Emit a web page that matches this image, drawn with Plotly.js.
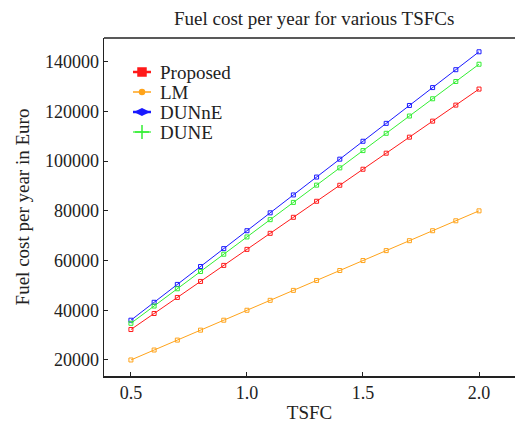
<!DOCTYPE html>
<html>
<head>
<meta charset="utf-8">
<script src="https://cdn.plot.ly/plotly-3.0.1.min.js"></script>
<style>
  html, body { margin: 0; padding: 0; background: #fff; }
  #chart { width: 515px; height: 426px; }
</style>
</head>
<body>
<div id="chart"></div>
<script>
// Thrust-specific fuel consumption values
const tsfc = [0.5, 0.6, 0.7, 0.8, 0.9, 1.0, 1.1, 1.2, 1.3, 1.4, 1.5, 1.6, 1.7, 1.8, 1.9, 2.0];

// Yearly fuel cost in Euro for each engine model
const proposed = [32250, 38700, 45150, 51600, 58050, 64500, 70950, 77400, 83850, 90300, 96750, 103200, 109650, 116100, 122550, 129000];
const lm       = [20000, 24000, 28000, 32000, 36000, 40000, 44000, 48000, 52000, 56000, 60000, 64000, 68000, 72000, 76000, 80000];
const dunne    = [36000, 43200, 50400, 57600, 64800, 72000, 79200, 86400, 93600, 100800, 108000, 115200, 122400, 129600, 136800, 144000];
const dune     = [34750, 41700, 48650, 55600, 62550, 69500, 76450, 83400, 90350, 97300, 104250, 111200, 118150, 125100, 132050, 139000];

// Axis tick labels
const xTicks = [0.5, 1.0, 1.5, 2.0];
const xTickText = ['0.5', '1.0', '1.5', '2.0'];
const yTicks = [20000, 40000, 60000, 80000, 100000, 120000, 140000];
const yTickText = ['20000', '40000', '60000', '80000', '100000', '120000', '140000'];

const seriesNames = ['Proposed', 'LM', 'DUNnE', 'DUNE'];
const seriesData = [proposed, lm, dunne, dune];
const colors = ['#ff1a1a', '#ffa31a', '#1a1aff', '#33ee33'];

// Legend key styling
const keySymbols = ['square', 'circle', 'diamond-wide', 'cross-thin-open'];
const keySizes = [8, 5, 9, 10];
const keyWidths = [2.5, 1.5, 2.5, 1.2];

const serif = '"Liberation Serif", "Times New Roman", serif';
const ink = '#222';

const traces = [];
seriesData.forEach((ys, i) => {
  traces.push({
    x: tsfc, y: ys, type: 'scatter', mode: 'lines+markers',
    name: seriesNames[i], showlegend: false,
    line: { color: colors[i], width: 1 },
    marker: { symbol: 'square-open', size: 4, color: colors[i], line: { color: colors[i], width: 1 } }
  });
});

// Hand-built legend on a pixel-scaled overlay axis pair
const keyX0 = 133, keyX1 = 151, keyMid = 142, textX = 158;
const rowY0 = 72, rowStep = 20;
const annotations = [];
seriesNames.forEach((name, i) => {
  const ry = rowY0 + i * rowStep;
  traces.push({
    x: [keyX0, keyMid, keyX1], y: [ry, ry, ry],
    xaxis: 'x2', yaxis: 'y2', type: 'scatter', mode: 'lines+markers',
    showlegend: false, hoverinfo: 'skip',
    line: { color: colors[i], width: keyWidths[i] },
    marker: { symbol: keySymbols[i], size: keySizes[i], color: colors[i],
              opacity: [0, 1, 0], line: { color: colors[i], width: 1.5 } }
  });
  annotations.push({
    xref: 'x2', yref: 'y2', x: textX, y: ry, text: name, showarrow: false,
    xanchor: 'left', yanchor: 'middle',
    font: { family: serif, size: 19, color: ink }
  });
});

const layout = {
  width: 515, height: 426,
  margin: { l: 104, r: 0, t: 38, b: 50 },
  paper_bgcolor: '#fff', plot_bgcolor: '#fff',
  font: { family: serif, size: 18, color: ink },
  showlegend: false,
  title: { text: 'Fuel cost per year for various TSFCs', x: 0.61, xanchor: 'center',
           y: 0.958, yanchor: 'middle', font: { family: serif, size: 19, color: ink } },
  xaxis: {
    range: [0.384, 2.155], tickvals: xTicks, ticktext: xTickText,
    ticks: 'inside', ticklen: 4, tickwidth: 1, tickcolor: ink,
    showgrid: false, zeroline: false, showline: true, linecolor: ink, linewidth: 1.5,
    tickfont: { family: serif, size: 18, color: ink },
    title: { text: 'TSFC', font: { family: serif, size: 19, color: ink }, standoff: 3 }
  },
  yaxis: {
    range: [13550, 149550], tickvals: yTicks, ticktext: yTickText,
    ticks: 'inside', ticklen: 4, tickwidth: 1, tickcolor: ink,
    showgrid: false, zeroline: false, showline: true, linecolor: ink, linewidth: 1.5,
    tickfont: { family: serif, size: 18, color: ink },
    title: { text: 'Fuel cost per year in Euro', font: { family: serif, size: 19, color: ink }, standoff: 10 }
  },
  xaxis2: { overlaying: 'x', anchor: 'y2', range: [104, 515], visible: false, fixedrange: true },
  yaxis2: { overlaying: 'y', anchor: 'x2', range: [376, 38], visible: false, fixedrange: true },
  shapes: [{ type: 'line', xref: 'paper', yref: 'paper', x0: 0, x1: 1, y0: 1, y1: 1,
             line: { color: ink, width: 1.5 } }],
  annotations: annotations
};

Plotly.newPlot('chart', traces, layout, { displayModeBar: false, staticPlot: true });
</script>
</body>
</html>
